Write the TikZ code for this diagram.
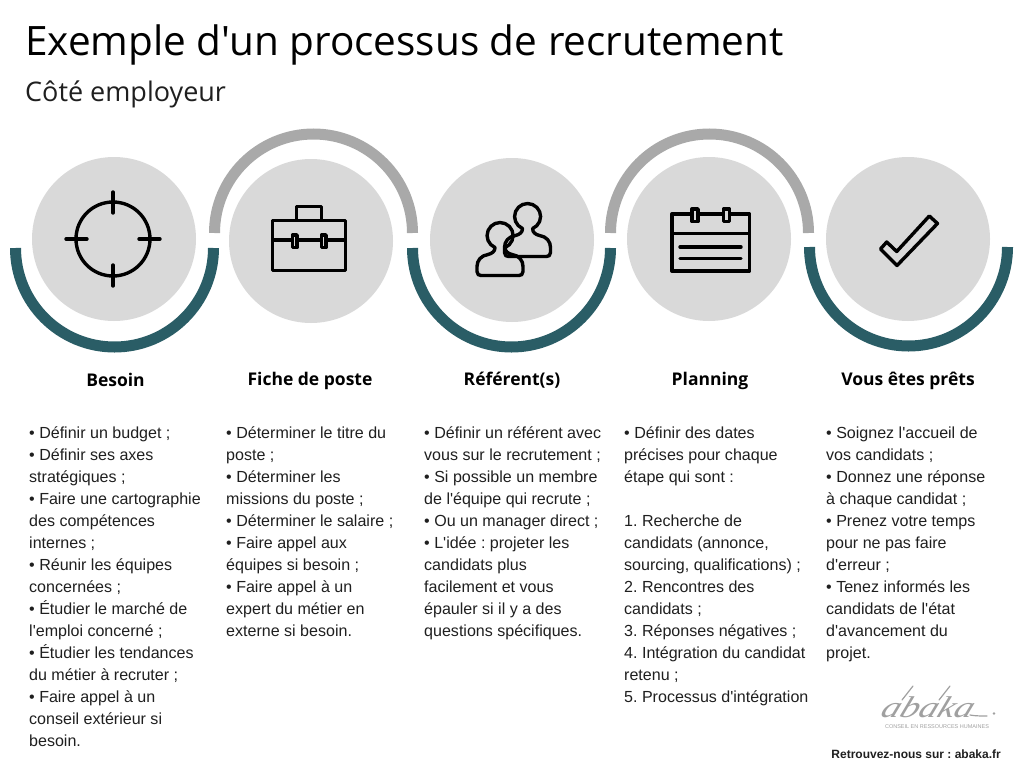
\documentclass[tikz,border=0pt]{standalone}
\usepackage{fontspec}
\newfontfamily\arial{Liberation Sans}
\newfontfamily\opensans{Open Sans}
\newfontfamily\logofont{Liberation Serif}
\definecolor{bleuarc}{HTML}{2A5D66}
\definecolor{grisarc}{HTML}{A9A9A9}
\definecolor{grisdisque}{HTML}{D9D9D9}
\definecolor{grislogo}{HTML}{A0A0A0}
\definecolor{texte}{HTML}{1F1F1F}
\tikzset{
  disque/.style={circle,fill=grisdisque,minimum size=164pt,inner sep=0pt},
  arcbas/.style={draw=bleuarc,line width=11pt},
  archaut/.style={draw=grisarc,line width=11pt},
  icone/.style={draw=black,line width=3.4pt,line join=round},
  trait/.style={draw=grislogo,line width=1.2pt,line cap=round},
  titre/.style={anchor=base west,inner sep=0pt,font=\opensans\fontsize{40.5}{50}\selectfont},
  soustitre/.style={anchor=base west,inner sep=0pt,text=texte,font=\opensans\fontsize{27}{32}\selectfont},
  entete/.style={anchor=base,inner sep=0pt,font=\opensans\bfseries\fontsize{17.5}{22}\selectfont},
  colonne/.style={anchor=north west,inner sep=0pt,align=left,text=texte,font=\arial\frenchspacing\fontsize{16.05}{22}\selectfont},
}
\begin{document}
\begin{tikzpicture}[x=1pt,y=-1pt]
  \useasboundingbox (0,0) rectangle (1024,768);
  \node[titre] (titre) at (25,56) {Exemple d'un processus de recrutement};
  \node[soustitre] (soustitre) at (25,101) {Côté employeur};
  % arcs
  \draw[arcbas] (15.5,248) arc (180:0:99);
  \draw[archaut] (214.5,233) arc (180:360:99);
  \draw[arcbas] (412.5,248) arc (180:0:99);
  \draw[archaut] (610.5,233) arc (180:360:99);
  \draw[arcbas] (809.5,247) arc (180:0:99);
  % disques
  \node[disque] (besoin) at (114,239) {};
  \node[disque] (fiche) at (311,241) {};
  \node[disque] (referent) at (512,240) {};
  \node[disque] (planning) at (709,239) {};
  \node[disque] (prets) at (908,239) {};
  % cible
  \draw[icone] (113,239) circle (37);
  \draw[icone,line cap=round] (113,192) -- (113,213);
  \draw[icone,line cap=round] (113,265) -- (113,286);
  \draw[icone,line cap=round] (66,239) -- (87,239);
  \draw[icone,line cap=round] (139,239) -- (160,239);
  % mallette
  \draw[icone] (272.5,220.5) rectangle (345.5,270.5);
  \draw[icone] (296.5,220.5) -- (296.5,206.5) -- (321.5,206.5) -- (321.5,220.5);
  \draw[icone] (272.5,240) -- (345.5,240);
  \draw[icone,fill=grisdisque] (292.5,235) rectangle (297,247.5);
  \draw[icone,fill=grisdisque] (321.5,235) rectangle (326,247.5);
  % personnes
  \foreach \px/\py in {500/235.5,527.5/216.5}{
    \begin{scope}[shift={(\px,\py)}]
      \draw[icone] (-5,12) arc (113:427:13) .. controls (5,16) and (8,18) .. (12,19)
        .. controls (19,20) and (23,25) .. (23,31) -- (23,36) .. controls (23,39) and (21,40) .. (19,40)
        -- (-19,40) .. controls (-21,40) and (-23,39) .. (-23,36) -- (-23,31)
        .. controls (-23,25) and (-19,20) .. (-12,19) .. controls (-8,18) and (-5,16) .. (-5,12) -- cycle;
    \end{scope}
  }
  % calendrier
  \draw[icone] (672,214) rectangle (749.5,271);
  \draw[icone] (672,233.5) -- (749.5,233.5);
  \draw[icone,line cap=round] (680,247) -- (741,247);
  \draw[icone,line cap=round] (680,258.5) -- (741,258.5);
  \draw[icone,fill=grisdisque] (692,209) rectangle (698,221.5);
  \draw[icone,fill=grisdisque] (723.5,209) rectangle (729.5,221.5);
  % coche
  \draw[icone] (929.3,216) -- (937.5,223.5) -- (897,265.5) -- (880.5,249) -- (886.7,242) -- (896.7,251.5) -- cycle;
  % entetes
  \node[entete] (tbesoin) at (115.5,386) {Besoin};
  \node[entete] (tfiche) at (310,385.5) {Fiche de poste};
  \node[entete] (treferent) at (512,385.5) {Référent(s)};
  \node[entete] (tplanning) at (710,385.5) {Planning};
  \node[entete] (tprets) at (908,385.5) {Vous êtes prêts};
  % colonnes
  \node[colonne] (cbesoin) at (29,423.2) {\strut• Définir un budget ;\\• Définir ses axes\\stratégiques ;\\• Faire une cartographie\\des compétences\\internes ;\\• Réunir les équipes\\concernées ;\\• Étudier le marché de\\l'emploi concerné ;\\• Étudier les tendances\\du métier à recruter ;\\• Faire appel à un\\conseil extérieur si\\besoin.};
  \node[colonne] (cfiche) at (226,423.2) {\strut• Déterminer le titre du\\poste ;\\• Déterminer les\\missions du poste ;\\• Déterminer le salaire ;\\• Faire appel aux\\équipes si besoin ;\\• Faire appel à un\\expert du métier en\\externe si besoin.};
  \node[colonne] (creferent) at (424,423.2) {\strut• Définir un référent avec\\vous sur le recrutement ;\\• Si possible un membre\\de l'équipe qui recrute ;\\• Ou un manager direct ;\\• L'idée : projeter les\\candidats plus\\facilement et vous\\épauler si il y a des\\questions spécifiques.};
  \node[colonne] (cplanning) at (624,423.2) {\strut• Définir des dates\\précises pour chaque\\étape qui sont :\\\strut\\1. Recherche de\\candidats (annonce,\\sourcing, qualifications) ;\\2. Rencontres des\\candidats ;\\3. Réponses négatives ;\\4. Intégration du candidat\\retenu ;\\5. Processus d'intégration};
  \node[colonne] (cprets) at (826,423.2) {\strut• Soignez l'accueil de\\vos candidats ;\\• Donnez une réponse\\à chaque candidat ;\\• Prenez votre temps\\pour ne pas faire\\d'erreur ;\\• Tenez informés les\\candidats de l'état\\d'avancement du\\projet.};
  % logo
  \node[anchor=base west,inner sep=0pt,text=grislogo,font=\logofont\itshape\fontsize{30}{30}\selectfont,transform shape,xscale=1.25,xslant=0.3] (logo) at (879,717) {abaka};
  \draw[trait] (902,700) -- (913,686);
  \draw[trait] (939,700) -- (950,686);
  \draw[trait] (970,715) .. controls (975,716) and (982,716) .. (987,716);
  \fill[grislogo] (994,713.5) circle (1.3);
  \node[anchor=base,inner sep=0pt,text=grislogo,font=\arial\fontsize{5.5}{6}\selectfont] (slogan) at (937,728.5) {CONSEIL EN RESSOURCES HUMAINES};
  \node[anchor=base east,inner sep=0pt,text=texte,font=\arial\bfseries\frenchspacing\fontsize{12}{14}\selectfont] (pied) at (1001,758) {Retrouvez-nous sur : abaka.fr};
\end{tikzpicture}
\end{document}
